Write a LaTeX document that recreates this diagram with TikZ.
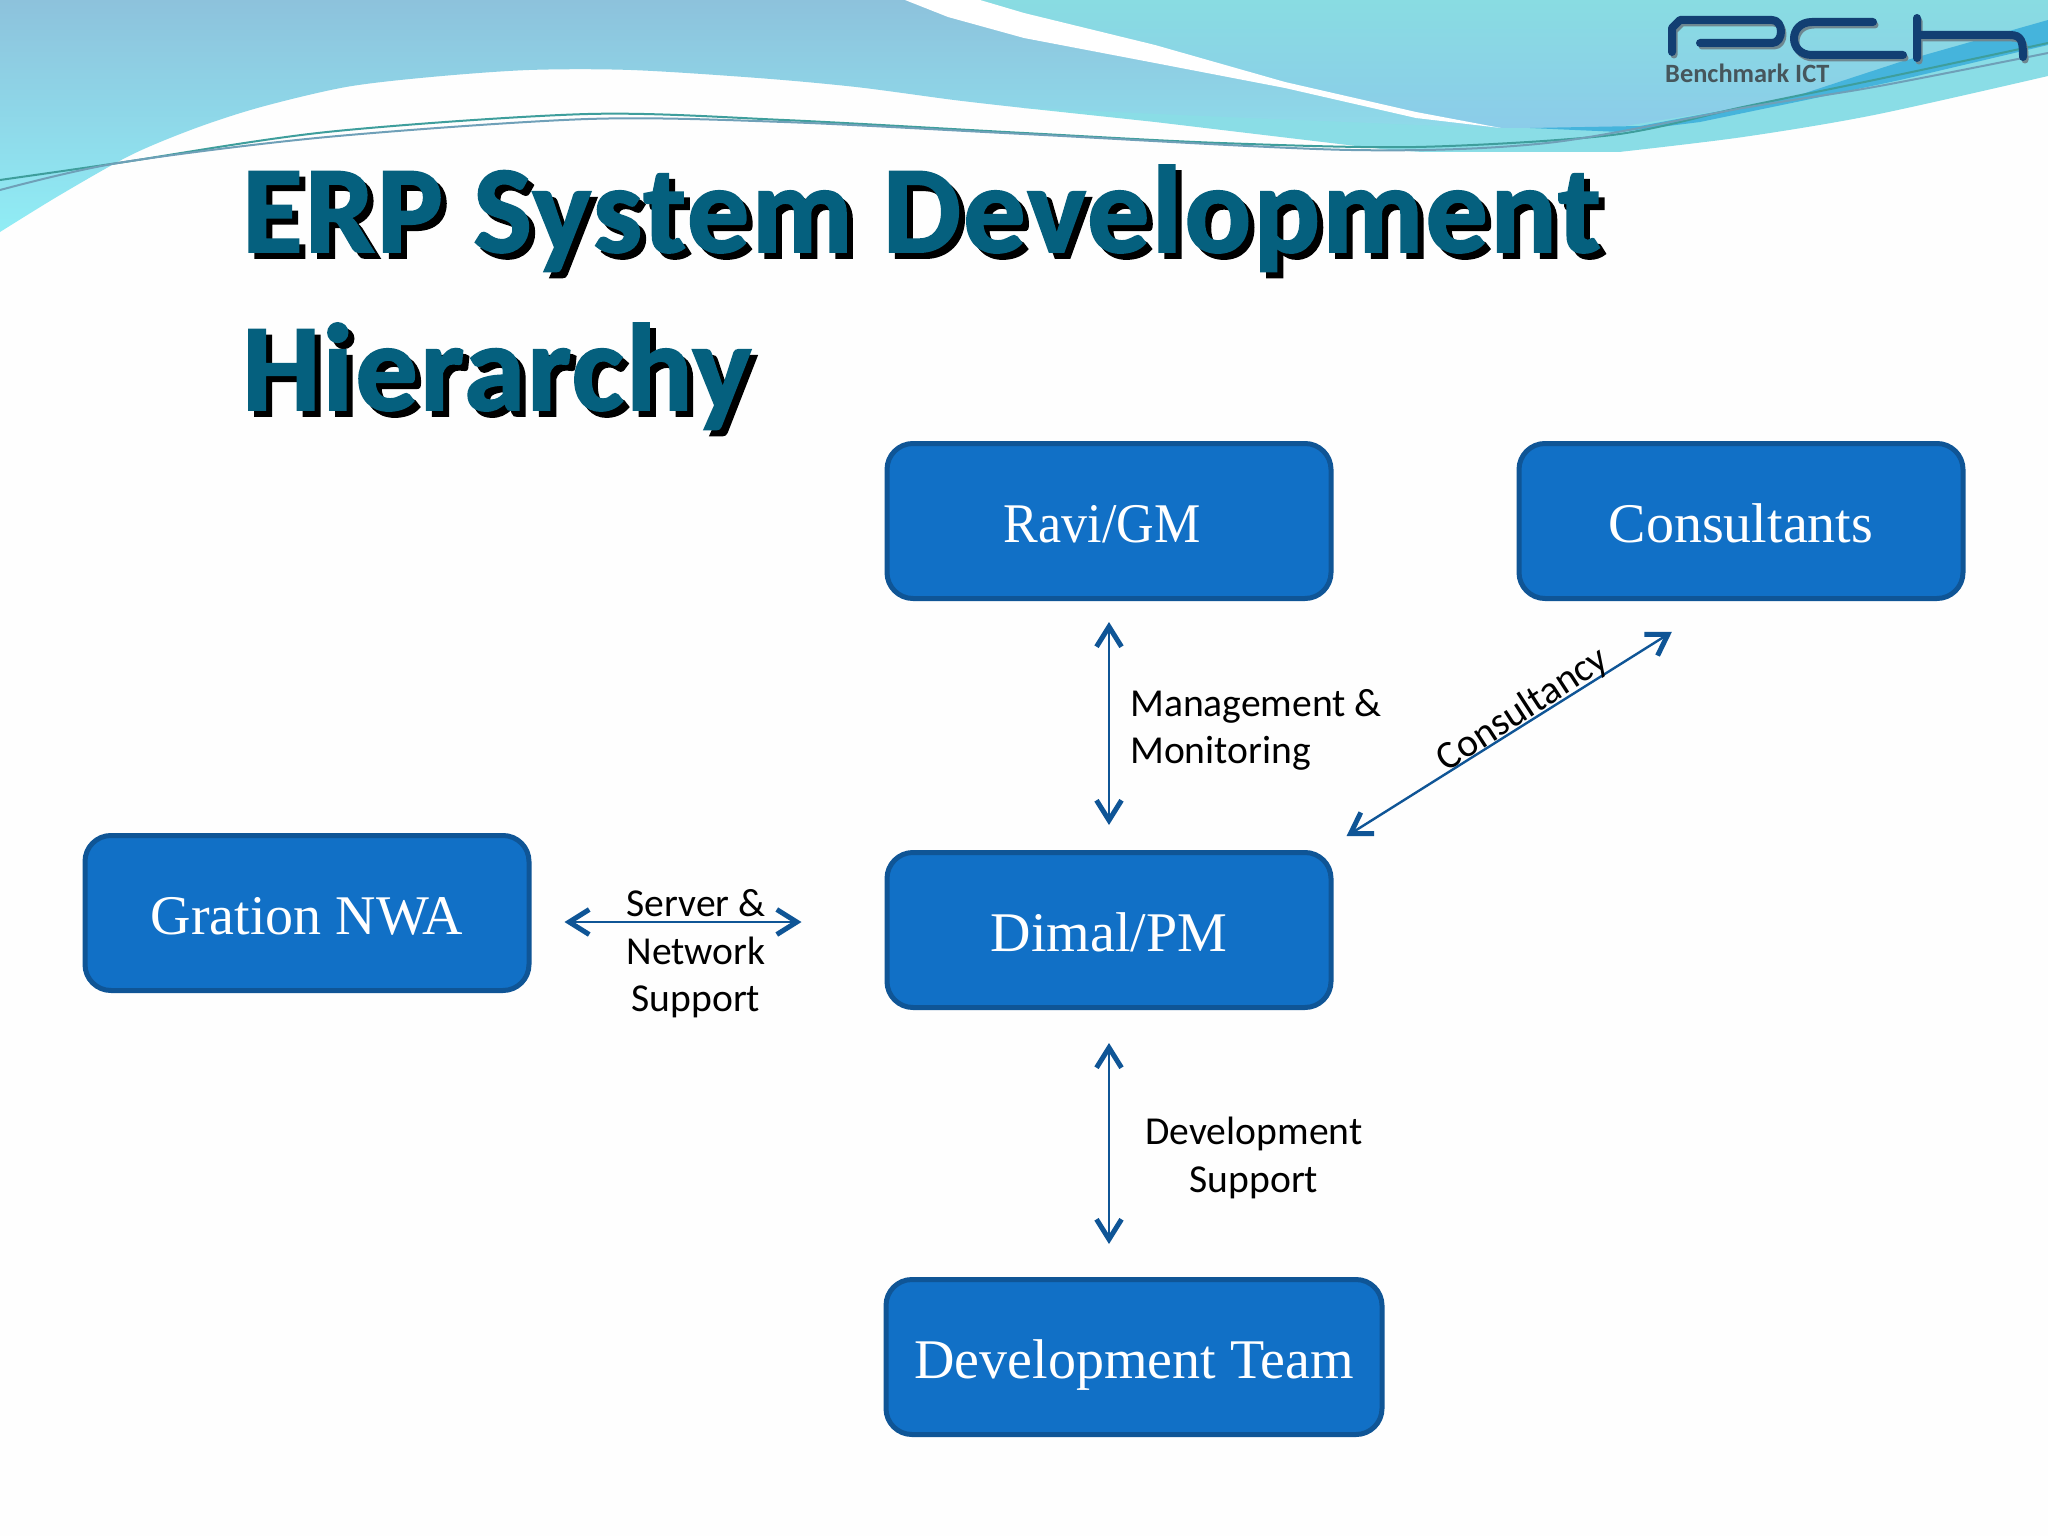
\documentclass[tikz,border=0pt]{standalone}
\usepackage{fontspec}
\usetikzlibrary{arrows.meta,calc}
\setmainfont{Carlito}
\newfontfamily\boxfont{Liberation Serif}
\newfontfamily\titlefont[FakeBold=1.6,LetterSpace=1.85]{Carlito Bold}
\definecolor{boxfill}{HTML}{1170C6}
\definecolor{boxedge}{HTML}{0F5596}
\definecolor{arrowblue}{HTML}{0F5596}
\definecolor{titleteal}{HTML}{05607E}
\definecolor{bandtop}{HTML}{8DC2DC}
\definecolor{bandlow}{HTML}{90EDF5}
\definecolor{cyantop}{HTML}{89DCE2}
\definecolor{cyanblue}{HTML}{8BCCE9}
\definecolor{cyanlow}{HTML}{8ADDE6}
\definecolor{strip}{HTML}{45B4DC}
\definecolor{logoblue}{HTML}{123F73}
\definecolor{logoshade}{HTML}{6E8790}
\definecolor{logotext}{HTML}{46565C}
\definecolor{strandA}{HTML}{3E9E9C}
\definecolor{strandB}{HTML}{6FA0B8}
\tikzset{
  x=1pt,y=-1pt,
  stage/.style={draw=boxedge,line width=5pt,fill=boxfill,rounded corners=26pt,text=white,
    minimum height=155pt,inner sep=0pt,text height=42pt,text depth=0pt,
    font=\boxfont\fontsize{56}{60}\selectfont},
  wide/.style={stage,minimum width=444pt},
  wider/.style={stage,minimum width=496pt},
  link/.style={draw=arrowblue,line width=2.4pt,{Straight Barb[length=20pt,width=25pt,line width=5pt]}-{Straight Barb[length=20pt,width=25pt,line width=5pt]}},
  lab/.style={font=\fontsize{39.6}{47.6}\selectfont,text=black,inner sep=0pt},
  titletext/.style={font=\titlefont\fontsize{124}{124}\selectfont,anchor=base west,inner sep=0pt},
  logostroke/.style={line width=8pt,line cap=round,line join=round},
  strand/.style={line width=2pt},
}
\begin{document}
\begin{tikzpicture}
\useasboundingbox (0,0) rectangle (2048,1536);
\fill[white!99.5!black] (0,0) rectangle (2048,1536);
% banner
\fill[cyanlow] (980,0) -- (2048,0) --
  plot[smooth] coordinates {(2048,76)(1874,115)(1743,137)(1619,152)}
  -- (1423,152) -- (1390,150) -- (1331,143) -- (1155,122) -- (1024,108) -- cycle;
\shade[top color=bandtop,bottom color=bandlow]
  (0,0) -- (1024,0) -- (1501,128) -- (1420,125) -- (1250,118) --
  plot[smooth] coordinates {(1024,108)(954,100)(856,87)(758,78)(631,70)(529,70)(431,77)(346,87)(261,107)(196,128)(131,155)(60,195)(0,232)} -- cycle;
\shade[top color=cyantop,bottom color=cyanblue]
  (980,0) -- (2048,0) -- (2048,20) -- (1874,80) -- (1743,107) -- (1612,128) -- (1501,128)
  -- (1416,115) -- (1285,85) -- (1155,54) -- (1024,25) -- cycle;
\fill[fill=white] (905,0) -- (980,0) -- (1024,13) -- (1155,45) -- (1285,82) -- (1416,112) -- (1501,128)
  -- (1416,118) -- (1285,88) -- (1155,63) -- (1024,38) -- (948,17) -- cycle;
\fill[strip] (1530,128) -- (1640,126) -- (1790,98) -- (1900,62) -- (2048,20) -- (2048,45) -- (1900,80) -- (1806,100) -- (1700,122) -- (1620,132) -- cycle;
\draw[strandA,strand] plot[smooth] coordinates {(0,180)(118,163)(327,132)(588,114)(784,120)(1024,133)(1220,143)(1416,147)(1612,135)(1743,107)(1874,80)(2048,43)};
\draw[strandB,strand] plot[smooth] coordinates {(0,190)(118,163)(327,137)(588,119)(784,122)(1024,134)(1351,150)(1547,143)(1743,108)(1874,87)(2048,53)};
% logo
\begin{scope}[shift={(2,3)}]
\draw[logoshade,logostroke,line width=7pt] (1672,52) -- (1672,28) -- (1680,20) -- (1772,20) .. controls (1784,20) and (1784,43) .. (1772,43) -- (1700,43);
\draw[logoshade,logostroke,line width=7pt] (1873,22) -- (1812,22) .. controls (1788,22) and (1788,55) .. (1812,55) -- (1903,55);
\draw[logoshade,logostroke,line width=7pt] (1917,18) -- (1917,58) (1917,35) -- (2010,35) .. controls (2022,35) and (2023,42) .. (2023,57);
\end{scope}
\draw[logoblue,logostroke] (1672,52) -- (1672,28) -- (1680,20) -- (1772,20) .. controls (1784,20) and (1784,43) .. (1772,43) -- (1700,43);
\draw[logoblue,logostroke] (1873,22) -- (1812,22) .. controls (1788,22) and (1788,55) .. (1812,55) -- (1903,55);
\draw[logoblue,logostroke] (1917,18) -- (1917,58) (1917,35) -- (2010,35) .. controls (2022,35) and (2023,42) .. (2023,57);
\node[anchor=base west,inner sep=0pt,text=logotext,font=\bfseries\fontsize{26.4}{27}\selectfont] (logotag) at (1665,83) {Benchmark ICT};
% title
\node[titletext,text=black] (titleAs) at (248,258) {ERP System Development};
\node[titletext,text=black] (titleBs) at (248,416) {Hierarchy};
\node[titletext,text=titleteal] (titleA) at (242,252) {ERP System Development};
\node[titletext,text=titleteal] (titleB) at (242,410) {Hierarchy};
% boxes
\node[wide] (ravi) at (1109,521) {\hspace*{-14pt}\scalebox{0.93}[1]{Ravi/GM}};
\node[wide] (consult) at (1741,521) {Consultants};
\node[wide] (gration) at (307,913) {Gration NWA};
\node[wide] (dimal) at (1109,930) {Dimal/PM};
\node[wider] (devteam) at (1134,1357) {Development Team};
% connectors
\draw[link,shorten <=21pt,shorten >=25pt] (ravi.south) -- (dimal.north);
\draw[link,shorten <=33pt,shorten >=33pt] (dimal.south) -- (dimal.south |- devteam.north);
\coordinate (srv) at (700,922);
\draw[link,shorten <=33pt,shorten >=83pt] (gration.east |- srv) -- (dimal.west |- srv);
\coordinate (cnsA) at ($(dimal.north east)+(-9,0)$);
\coordinate (cnsB) at ($(consult.south)+(-20,0)$);
\draw[link,shorten <=26pt,shorten >=58pt] (cnsA) -- (cnsB);
% labels
\node[lab,align=left,anchor=west] (lmm) at (1130,730) {Management \&\\Monitoring};
\node[lab,align=center] (lsn) at (696,954) {Server \&\\Network\\Support};
\node[lab,align=center] (lds) at (1254,1158) {Development\\Support};
\node[lab,rotate=33] (lcn) at (1523,710) {Consultancy};
\end{tikzpicture}
\end{document}
